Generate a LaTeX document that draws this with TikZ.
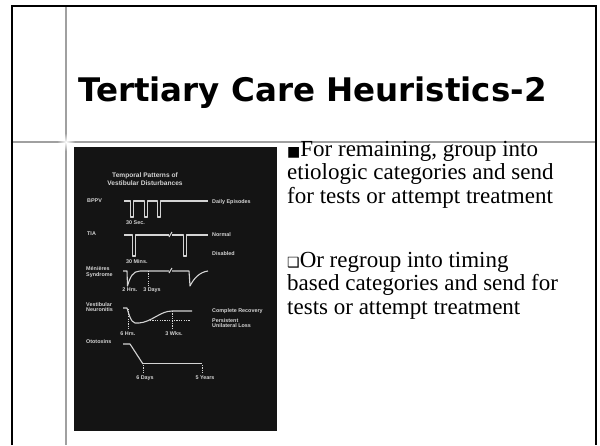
\documentclass[tikz,border=0pt]{standalone}
\usepackage{fontspec}
\setmainfont{Liberation Serif}
\newfontfamily\titlefont{DejaVu Sans}
\newfontfamily\slidefont{Liberation Sans}
\newfontfamily\symfont{DejaVu Sans}
\usetikzlibrary{positioning, fadings}

\definecolor{rulegrey}{HTML}{A0A0A0}
\definecolor{photobg}{HTML}{141414}
\definecolor{ink}{HTML}{D4D4D4}

\tikzfading[name=flare, inner color=transparent!0, outer color=transparent!100]

\tikzset{
  lbl/.style={font=\slidefont\bfseries\fontsize{5.4}{5.8}\selectfont,
              text=ink, inner sep=0pt, align=left},
  trace/.style={draw=ink, line width=1.1pt, line join=round},
  guide/.style={draw=ink, line width=0.6pt, dash pattern=on 1.2pt off 1.2pt},
  bodytext/.style={font=\fontsize{23}{23.2}\selectfont, align=left,
                   inner sep=0pt, anchor=base west},
}

\newcommand{\fullbox}{{\symfont\fontsize{14}{14}\selectfont ■}}
\newcommand{\hollowbox}{{\symfont\fontsize{14}{14}\selectfont ❑}}

\begin{document}
\begin{tikzpicture}[x=1pt, y=-1pt]
          \useasboundingbox (0,0) rectangle (600,445);
          % Slide frame and guide rules
          \draw[rulegrey, line width=2pt] (66,6) -- (66,445);
          \draw[rulegrey, line width=2pt] (12,142) -- (596,142);
          \fill[white, path fading=flare] (66,142) circle (9);
          \draw[black, line width=2pt] (12,445) -- (12,6) -- (596,6) -- (596,445);
          % Title
          \node[font=\titlefont\bfseries\fontsize{32.5}{36}\selectfont,
                anchor=base west, inner sep=0pt] (title) at (78,101)
               {Tertiary Care Heuristics-2};
          % Photograph of the chart
          \fill[photobg] (74,147) rectangle (277,431);
          \node[lbl, align=center, font=\slidefont\bfseries\fontsize{6.6}{8}\selectfont]
               (heading) at (145,179) {Temporal Patterns of\\Vestibular Disturbances};
          \node[lbl, anchor=west] (bppv) at (87,201) {BPPV};
          \node[lbl, anchor=west] (tia) at (87,234) {TIA};
          \node[lbl, anchor=west] (meniere) at (86,272) {Ménières\\Syndrome};
          \node[lbl, anchor=west] (neuro) at (86,307) {Vestibular\\Neuronitis};
          \node[lbl, anchor=west] (oto) at (86,342) {Ototoxins};
          \node[lbl, anchor=west] (daily) at (212,202) {Daily Episodes};
          \node[lbl, anchor=west] (normal) at (212,235) {Normal};
          \node[lbl, anchor=west] (disabled) at (212,254) {Disabled};
          \node[lbl, anchor=west] (complete) at (212,311) {Complete Recovery};
          \node[lbl, anchor=west] (persist) at (212,323) {Persistent\\Unilateral Loss};
          % BPPV
          \draw[trace] (124,201) -- (130.5,201) -- (130.5,217) -- (133.5,217)
            -- (133.5,201) -- (144.5,201) -- (144.5,217) -- (147.5,217)
            -- (147.5,201) -- (157.5,201) -- (157.5,217) -- (160.5,217)
            -- (160.5,201) -- (208,201);
          \node[lbl, anchor=north west] (sec) at (126,221) {30 Sec.};
          % TIA
          \draw[trace] (124,235) -- (132.5,235) -- (132.5,256) -- (135.5,256)
            -- (135.5,235) -- (169,235);
          \draw[trace] (169,237) -- (172,232);
          \draw[trace] (172,235) -- (183.5,235) -- (183.5,256) -- (186.5,256)
            -- (186.5,235) -- (208,235);
          \node[lbl, anchor=north west] (mins) at (126,259) {30 Mins.};
          % Menieres
          \draw[trace] (123,271) -- (127,271) -- (127.5,286)
            .. controls (130,277) and (133,271) .. (140,271) -- (169,271);
          \draw[trace] (169,273) -- (172,268);
          \draw[trace] (172,271) -- (189,271) -- (190,286)
            .. controls (194,278) and (200,272) .. (208,271);
          \draw[guide] (148,271) -- (148,286);
          \node[lbl] (hrs) at (130,290) {2 Hrs.};
          \node[lbl] (days) at (152,290) {3 Days};
          % Vestibular neuronitis
          \draw[trace] (123,308) -- (127,308) .. controls (131,322) and (133,324) .. (139,323)
            .. controls (152,322) and (160,311) .. (172,311) -- (192,311);
          \draw[guide] (150,320) -- (190,320);
          \draw[guide] (128,309) -- (128,329);
          \draw[guide] (172,311) -- (172,329);
          \node[lbl] (six) at (128,334) {6 Hrs.};
          \node[lbl] (wks) at (174,334) {3 Wks.};
          % Ototoxins
          \draw[trace] (123,344) -- (130,344) -- (143,364);
          \draw[trace, double=photobg, double distance=0.6pt, line width=0.8pt] (143,364) -- (202,364);
          \draw[guide] (143,365) -- (143,373);
          \draw[guide] (202,365) -- (202,373);
          \node[lbl] (sixd) at (145,378) {6 Days};
          \node[lbl] (years) at (205,378) {5 Years};
          % Bullet text (base = last line)
          \node[bodytext] (first) at (287,203)
               {\fullbox For remaining, group into\\etiologic categories and send\\for tests or attempt treatment};
          \node[bodytext] (second) at (287,314)
               {\hollowbox Or regroup into timing\\based categories and send for\\tests or attempt treatment};
        \end{tikzpicture}
\end{document}
